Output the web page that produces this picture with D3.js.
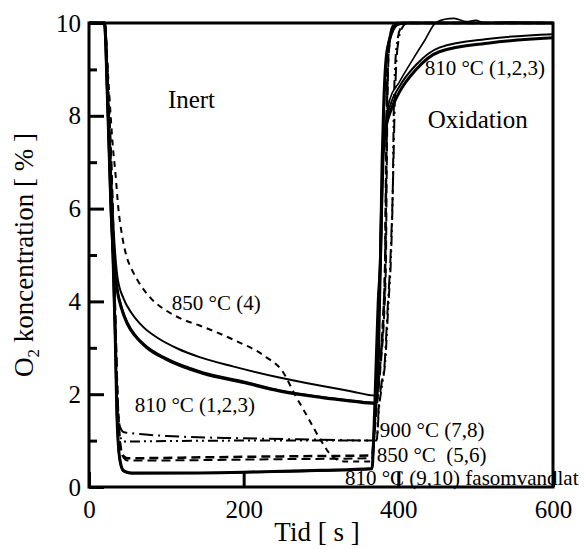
<!DOCTYPE html>
<meta charset="utf-8">
<style type="text/css">
    body { margin: 0; background: #fff; }
    text { font-family: "Liberation Serif", "DejaVu Serif", serif; fill: #000; }
    .line { fill: none; stroke: #000; }
    .frame { fill: none; stroke: #000; stroke-width: 3; }
    .label { white-space: pre; }
</style>
<body>
</body>
<script src="https://d3js.org/d3.v7.min.js"></script>
<script>
// O2 concentration [%] vs time [s]
var s810_1 = [[0,10],[20,10],[24,8.5],[28,6.5],[31,5.2],[36,4.3],[42,3.85],[50,3.5],[60,3.25],[75,3.0],[100,2.75],[147,2.45],[200,2.25],[246,2.07],[300,1.93],[340,1.85],[370,1.8],[373,2.2],[376,4.2],[378,5.8],[380,7.0],[383,7.65],[390,8.1],[401,8.5],[423,9.0],[453,9.38],[518,9.57],[600,9.68]];
var s810_2 = [[0,10],[20,10],[24,8.6],[28,6.9],[32,5.5],[37,4.5],[45,4.05],[55,3.75],[70,3.45],[90,3.2],[115,2.98],[143,2.8],[186,2.6],[246,2.36],[300,2.18],[340,2.06],[370,1.97],[373,2.3],[376,4.4],[378,6.0],[380,7.1],[383,7.75],[390,8.25],[401,8.62],[423,9.1],[453,9.47],[518,9.66],[600,9.76]];
var s810_3 = [[0,10],[20,10],[24,8.5],[28,6.6],[31,5.3],[36,4.35],[42,3.9],[50,3.55],[60,3.28],[75,3.03],[100,2.78],[147,2.48],[200,2.28],[246,2.09],[300,1.95],[340,1.87],[370,1.82],[373,2.2],[376,4.3],[378,5.9],[380,7.05],[383,7.75],[389,8.35],[401,8.72],[420,9.25],[435,9.65],[447,9.98],[460,10.08],[472,10.1],[488,10.03],[500,10.06],[512,10.0],[540,10.02],[600,10.0]];
var s850_4 = [[0,10],[20,10],[25,8.8],[28,8.0],[31,7.3],[34,6.8],[38,6.0],[43,5.4],[48,5.0],[55,4.7],[63,4.45],[81,4.05],[100,3.8],[120,3.62],[143,3.48],[186,3.18],[229,2.8],[250,2.5],[266,2.0],[283,1.5],[300,1.0],[315,0.65],[330,0.55],[366,0.55],[369,1.2],[372,1.9],[375,2.5],[378,3.0],[381,3.9],[383,5.0],[384,6.5],[385,8.0],[387,9.3],[390,9.8],[396,10],[600,10]];
var s850_5 = [[0,10],[20,10],[25,8.4],[30,6.2],[34,3.5],[37,1.8],[40,0.95],[44,0.68],[50,0.62],[150,0.64],[250,0.66],[366,0.68],[369,1.3],[372,1.9],[375,2.4],[378,2.95],[381,3.8],[383,4.8],[384,6.5],[385,8.0],[386,9.0],[388,9.5],[391,9.85],[397,10],[600,10]];
var s850_6 = [[0,10],[20,10],[25,8.5],[30,6.4],[34,3.8],[37,2.0],[40,1.0],[44,0.65],[50,0.57],[150,0.58],[250,0.6],[366,0.62],[369,1.1],[372,1.7],[375,2.2],[378,2.8],[381,3.5],[384,4.9],[385,6.8],[386,8.3],[387,9.1],[389,9.6],[393,9.9],[399,10],[600,10]];
var s900_7 = [[0,10],[20,10],[25,8.3],[30,6.0],[34,3.5],[37,1.9],[40,1.3],[45,1.18],[60,1.15],[100,1.1],[200,1.05],[300,1.02],[372,1.0],[375,1.8],[379,2.3],[382,2.6],[386,3.8],[390,5.0],[393,6.5],[395,8.0],[397,9.0],[400,9.6],[405,9.9],[412,10],[600,10]];
var s900_8 = [[0,10],[20,10],[25,8.3],[30,6.0],[34,3.4],[37,1.7],[40,1.1],[45,0.98],[100,0.99],[200,1.0],[300,1.0],[372,1.0],[375,1.7],[379,2.2],[383,2.7],[387,3.9],[391,5.2],[393,6.6],[394,8.0],[396,9.1],[399,9.65],[404,9.92],[410,10],[600,10]];
var s810_9 = [[0,10],[20,10],[24,8.3],[28,6.2],[31,5.0],[34,3.2],[36,1.6],[38,0.9],[41,0.5],[45,0.35],[55,0.3],[100,0.3],[200,0.32],[300,0.36],[366,0.4],[368,1.0],[371,2.5],[374,4.0],[377,5.0],[379,7.0],[381,8.2],[384,9.2],[388,9.6],[393,9.85],[399,9.97],[410,10],[600,10]];
var s810_10 = [[0,10],[20,10],[24,8.2],[28,6.0],[31,4.8],[34,3.0],[36,1.5],[38,0.85],[41,0.47],[45,0.33],[55,0.29],[150,0.3],[250,0.33],[366,0.38],[369,1.2],[372,2.8],[375,4.3],[378,5.5],[380,7.2],[382,8.4],[385,9.3],[389,9.7],[395,9.9],[402,9.98],[415,10],[600,10]];

var xTicks = [0, 200, 400, 600];
var yTicks = [0, 2, 4, 6, 8, 10];
var yMinor = [1, 3, 5, 7, 9];

// labels in data units: [t, value, text]
var labels = [
    [102, 8.17, "Inert"],
    [438, 7.74, "Oxidation"],
    [434, 8.88, "810 °C (1,2,3)"],
    [107, 3.81, "850 °C (4)"],
    [59, 1.62, "810 °C (1,2,3)"],
    [376, 1.08, "900 °C (7,8)"],
    [372, 0.54, "850 °C  (5,6)"],
    [331, 0.04, "810 °C (9,10) fasomvandlat"]
];

var series = [
    {d: s810_1, w: 3, dash: null},
    {d: s810_2, w: 2, dash: null},
    {d: s810_3, w: 1.6, dash: null},
    {d: s850_4, w: 2, dash: "6,5"},
    {d: s850_5, w: 2.5, dash: "9,5"},
    {d: s850_6, w: 2, dash: "9,5"},
    {d: s900_7, w: 2, dash: "14,5,2,5"},
    {d: s900_8, w: 2, dash: "10,4,2,4,2,4"},
    {d: s810_9, w: 3, dash: null},
    {d: s810_10, w: 2, dash: null}
];

var width = 585, height = 549;
var svg = d3.select("body").append("svg")
    .attr("width", width)
    .attr("height", height);

var x = d3.scaleLinear().domain([0, 600]).range([89, 553]);
var y = d3.scaleLinear().domain([0, 10]).range([487, 23]);

var line = d3.line()
    .x(function (d) { return x(d[0]); })
    .y(function (d) { return y(d[1]); })
    .curve(d3.curveMonotoneX);

svg.selectAll(".line")
    .data(series)
    .enter().append("path")
    .attr("class", "line")
    .attr("stroke-width", function (d) { return d.w; })
    .attr("stroke-dasharray", function (d) { return d.dash; })
    .attr("d", function (d) { return line(d.d); });

// frame
svg.append("rect")
    .attr("class", "frame")
    .attr("x", x(0)).attr("y", y(10))
    .attr("width", x(600) - x(0))
    .attr("height", y(0) - y(10));

// axes with inward ticks
svg.append("g")
    .attr("transform", "translate(" + x(0) + ",0)")
    .call(d3.axisLeft(y).tickValues(yTicks).tickSizeInner(-15).tickSizeOuter(0).tickPadding(8));
svg.append("g")
    .attr("transform", "translate(" + x(0) + ",0)")
    .call(d3.axisLeft(y).tickValues(yMinor).tickSizeInner(-8).tickSizeOuter(0).tickFormat(""));
svg.append("g")
    .attr("transform", "translate(0," + y(0) + ")")
    .call(d3.axisBottom(x).tickValues(xTicks).tickSizeInner(-15).tickSizeOuter(0).tickPadding(13));

svg.selectAll(".domain").remove();
svg.selectAll(".tick line").attr("stroke-width", 3);
svg.selectAll(".tick text").style("font-size", "25px");

// axis titles
svg.append("text")
    .attr("x", (x(0) + x(600)) / 2 - 4)
    .attr("y", 541)
    .attr("text-anchor", "middle")
    .style("font-size", "27px")
    .text("Tid [ s ]");

var yt = svg.append("text")
    .attr("transform", "translate(33," + (y(0) + y(10)) / 2 + ") rotate(-90)")
    .attr("text-anchor", "middle")
    .style("font-size", "27px");
yt.append("tspan").text("O");
yt.append("tspan").style("font-size", "17px").attr("dy", 6).text("2");
yt.append("tspan").attr("dy", -6).text(" koncentration [ % ]");

// annotations
svg.selectAll(".label")
    .data(labels)
    .enter().append("text")
    .attr("class", "label")
    .attr("x", function (d) { return x(d[0]); })
    .attr("y", function (d) { return y(d[1]); })
    .style("font-size", function (d, i) { return i < 2 ? "25px" : "21px"; })
    .text(function (d) { return d[2]; });
</script>
